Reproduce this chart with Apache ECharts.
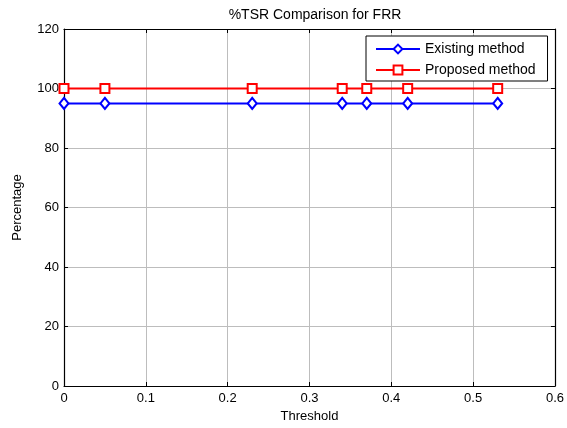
<!DOCTYPE html>
<html>
<head>
<meta charset="utf-8">
<script src="https://cdn.jsdelivr.net/npm/echarts@6/dist/echarts.min.js"></script>
<style>
  html, body { margin: 0; padding: 0; background: #fff; }
  #chart { width: 567px; height: 428px; }
</style>
</head>
<body>
<div id="chart"></div>
<script>
const thresholds = [0, 0.05, 0.23, 0.34, 0.37, 0.42, 0.53]
const existing = [95, 95, 95, 95, 95, 95, 95]
const proposed = [100, 100, 100, 100, 100, 100, 100]
const seriesNames = ['Existing method', 'Proposed method']

const FONT = "'Liberation Sans', Arial, sans-serif"
const pairs = (ys) => thresholds.map((t, i) => [t, ys[i]])

const boxAxis = (extra) => Object.assign({
  type: 'value',
  axisLine: { show: true, onZero: false, lineStyle: { color: '#000', width: 1.2 } },
  axisTick: { show: true, inside: true, length: 4, lineStyle: { color: '#000' } },
  splitLine: { show: false },
  axisLabel: { show: false }
}, extra)

const chart = echarts.init(document.getElementById('chart'))
chart.setOption({
  animation: false,
  backgroundColor: '#fff',
  textStyle: { fontFamily: FONT },
  title: {
    text: '%TSR Comparison for FRR',
    left: 310,
    top: 3,
    textAlign: 'center',
    textStyle: { fontFamily: FONT, fontSize: 14, fontWeight: 'normal', color: '#000' }
  },
  grid: { left: 64, right: 11, top: 29, bottom: 39 },
  legend: {
    data: seriesNames,
    orient: 'vertical',
    left: 366,
    top: 36,
    itemWidth: 44,
    itemHeight: 11,
    itemGap: 7,
    padding: [6, 12, 4, 9],
    backgroundColor: '#fff',
    borderColor: '#000',
    borderWidth: 1,
    textStyle: { fontFamily: FONT, fontSize: 14, color: '#000' }
  },
  xAxis: [
    boxAxis({
      min: 0, max: 0.6, interval: 0.1,
      position: 'bottom',
      name: 'Threshold',
      nameLocation: 'middle',
      nameGap: 24,
      nameTextStyle: { fontFamily: FONT, fontSize: 13, color: '#000' },
      axisLabel: { show: true, margin: 6, fontFamily: FONT, fontSize: 13, color: '#000' },
      splitLine: { show: true, lineStyle: { color: '#bdbdbd', width: 1 } }
    }),
    boxAxis({ min: 0, max: 0.6, interval: 0.1, position: 'top' })
  ],
  yAxis: [
    boxAxis({
      min: 0, max: 120, interval: 20,
      position: 'left',
      name: 'Percentage',
      nameLocation: 'middle',
      nameGap: 40,
      nameTextStyle: { fontFamily: FONT, fontSize: 13, color: '#000' },
      axisLabel: { show: true, margin: 5, fontFamily: FONT, fontSize: 13, color: '#000' },
      splitLine: { show: true, lineStyle: { color: '#bdbdbd', width: 1 } }
    }),
    boxAxis({ min: 0, max: 120, interval: 20, position: 'right' })
  ],
  series: [
    {
      name: seriesNames[0],
      type: 'line',
      data: pairs(existing),
      clip: false,
      symbol: 'emptyDiamond',
      symbolSize: [9, 11],
      lineStyle: { color: '#0000ff', width: 2 },
      itemStyle: { color: '#0000ff', borderColor: '#0000ff', borderWidth: 1.8 }
    },
    {
      name: seriesNames[1],
      type: 'line',
      data: pairs(proposed),
      clip: false,
      symbol: 'emptyRect',
      symbolSize: 9,
      lineStyle: { color: '#ff0000', width: 2 },
      itemStyle: { color: '#ff0000', borderColor: '#ff0000', borderWidth: 1.8 }
    }
  ]
})
</script>
</body>
</html>
